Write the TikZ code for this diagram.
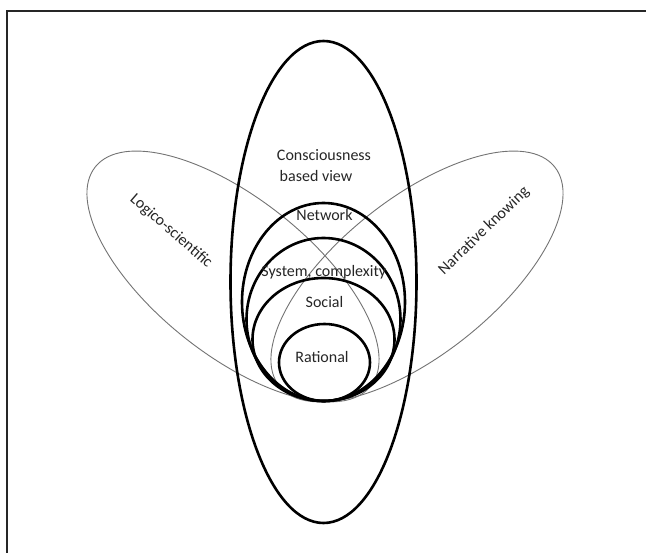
\documentclass[tikz,border=0pt]{standalone}
\usepackage{fontspec}
\setmainfont{Carlito}
\begin{document}
\begin{tikzpicture}[x=1pt,y=-1pt,
  ring/.style={draw=black, line width=2.6pt},
  petal/.style={draw=black!55, line width=0.9pt},
  lbl/.style={font=\fontsize{16}{19}\selectfont, text=black!85, inner sep=0pt}]
\useasboundingbox (0,0) rectangle (646,553);
% frame
\draw[black!85, line width=1.2pt] (7,553) -- (7,11) -- (646,11);
% petals
\coordinate (lp) at (233,276.5);
\coordinate (rp) at (417,276.5);
\draw[petal, rotate around={-38.5:(lp)}] (lp) ellipse [x radius=176pt, y radius=78pt];
\draw[petal, rotate around={38.5:(rp)}] (rp) ellipse [x radius=176pt, y radius=78pt];
% main ellipse
\draw[ring] (323.5,282) ellipse [x radius=93pt, y radius=241pt];
% nested ellipses, tangent at bottom
\draw[ring] (323.5,302) ellipse [x radius=81.5pt, y radius=99pt];
\draw[ring] (323.5,319.5) ellipse [x radius=77pt, y radius=81.5pt];
\draw[ring] (323.5,339.5) ellipse [x radius=71pt, y radius=61.5pt];
\draw[ring] (324.5,362.5) ellipse [x radius=45.5pt, y radius=38.5pt];
% labels
\node[lbl] (cons) at (324,155) {Consciousness};
\node[lbl] (based) at (316,176) {based view};
\node[lbl] (net) at (324.5,215) {Network};
\node[lbl] (sys) at (323.8,272) {System, complexity};
\node[lbl] (soc) at (324.5,302) {Social};
\node[lbl] (rat) at (322,357) {Rational};
\node[lbl, rotate=-41] (logico) at (171,231) {Logico-scientific};
\node[lbl, rotate=44] (narr) at (484,231) {Narrative knowing};
\end{tikzpicture}
\end{document}
